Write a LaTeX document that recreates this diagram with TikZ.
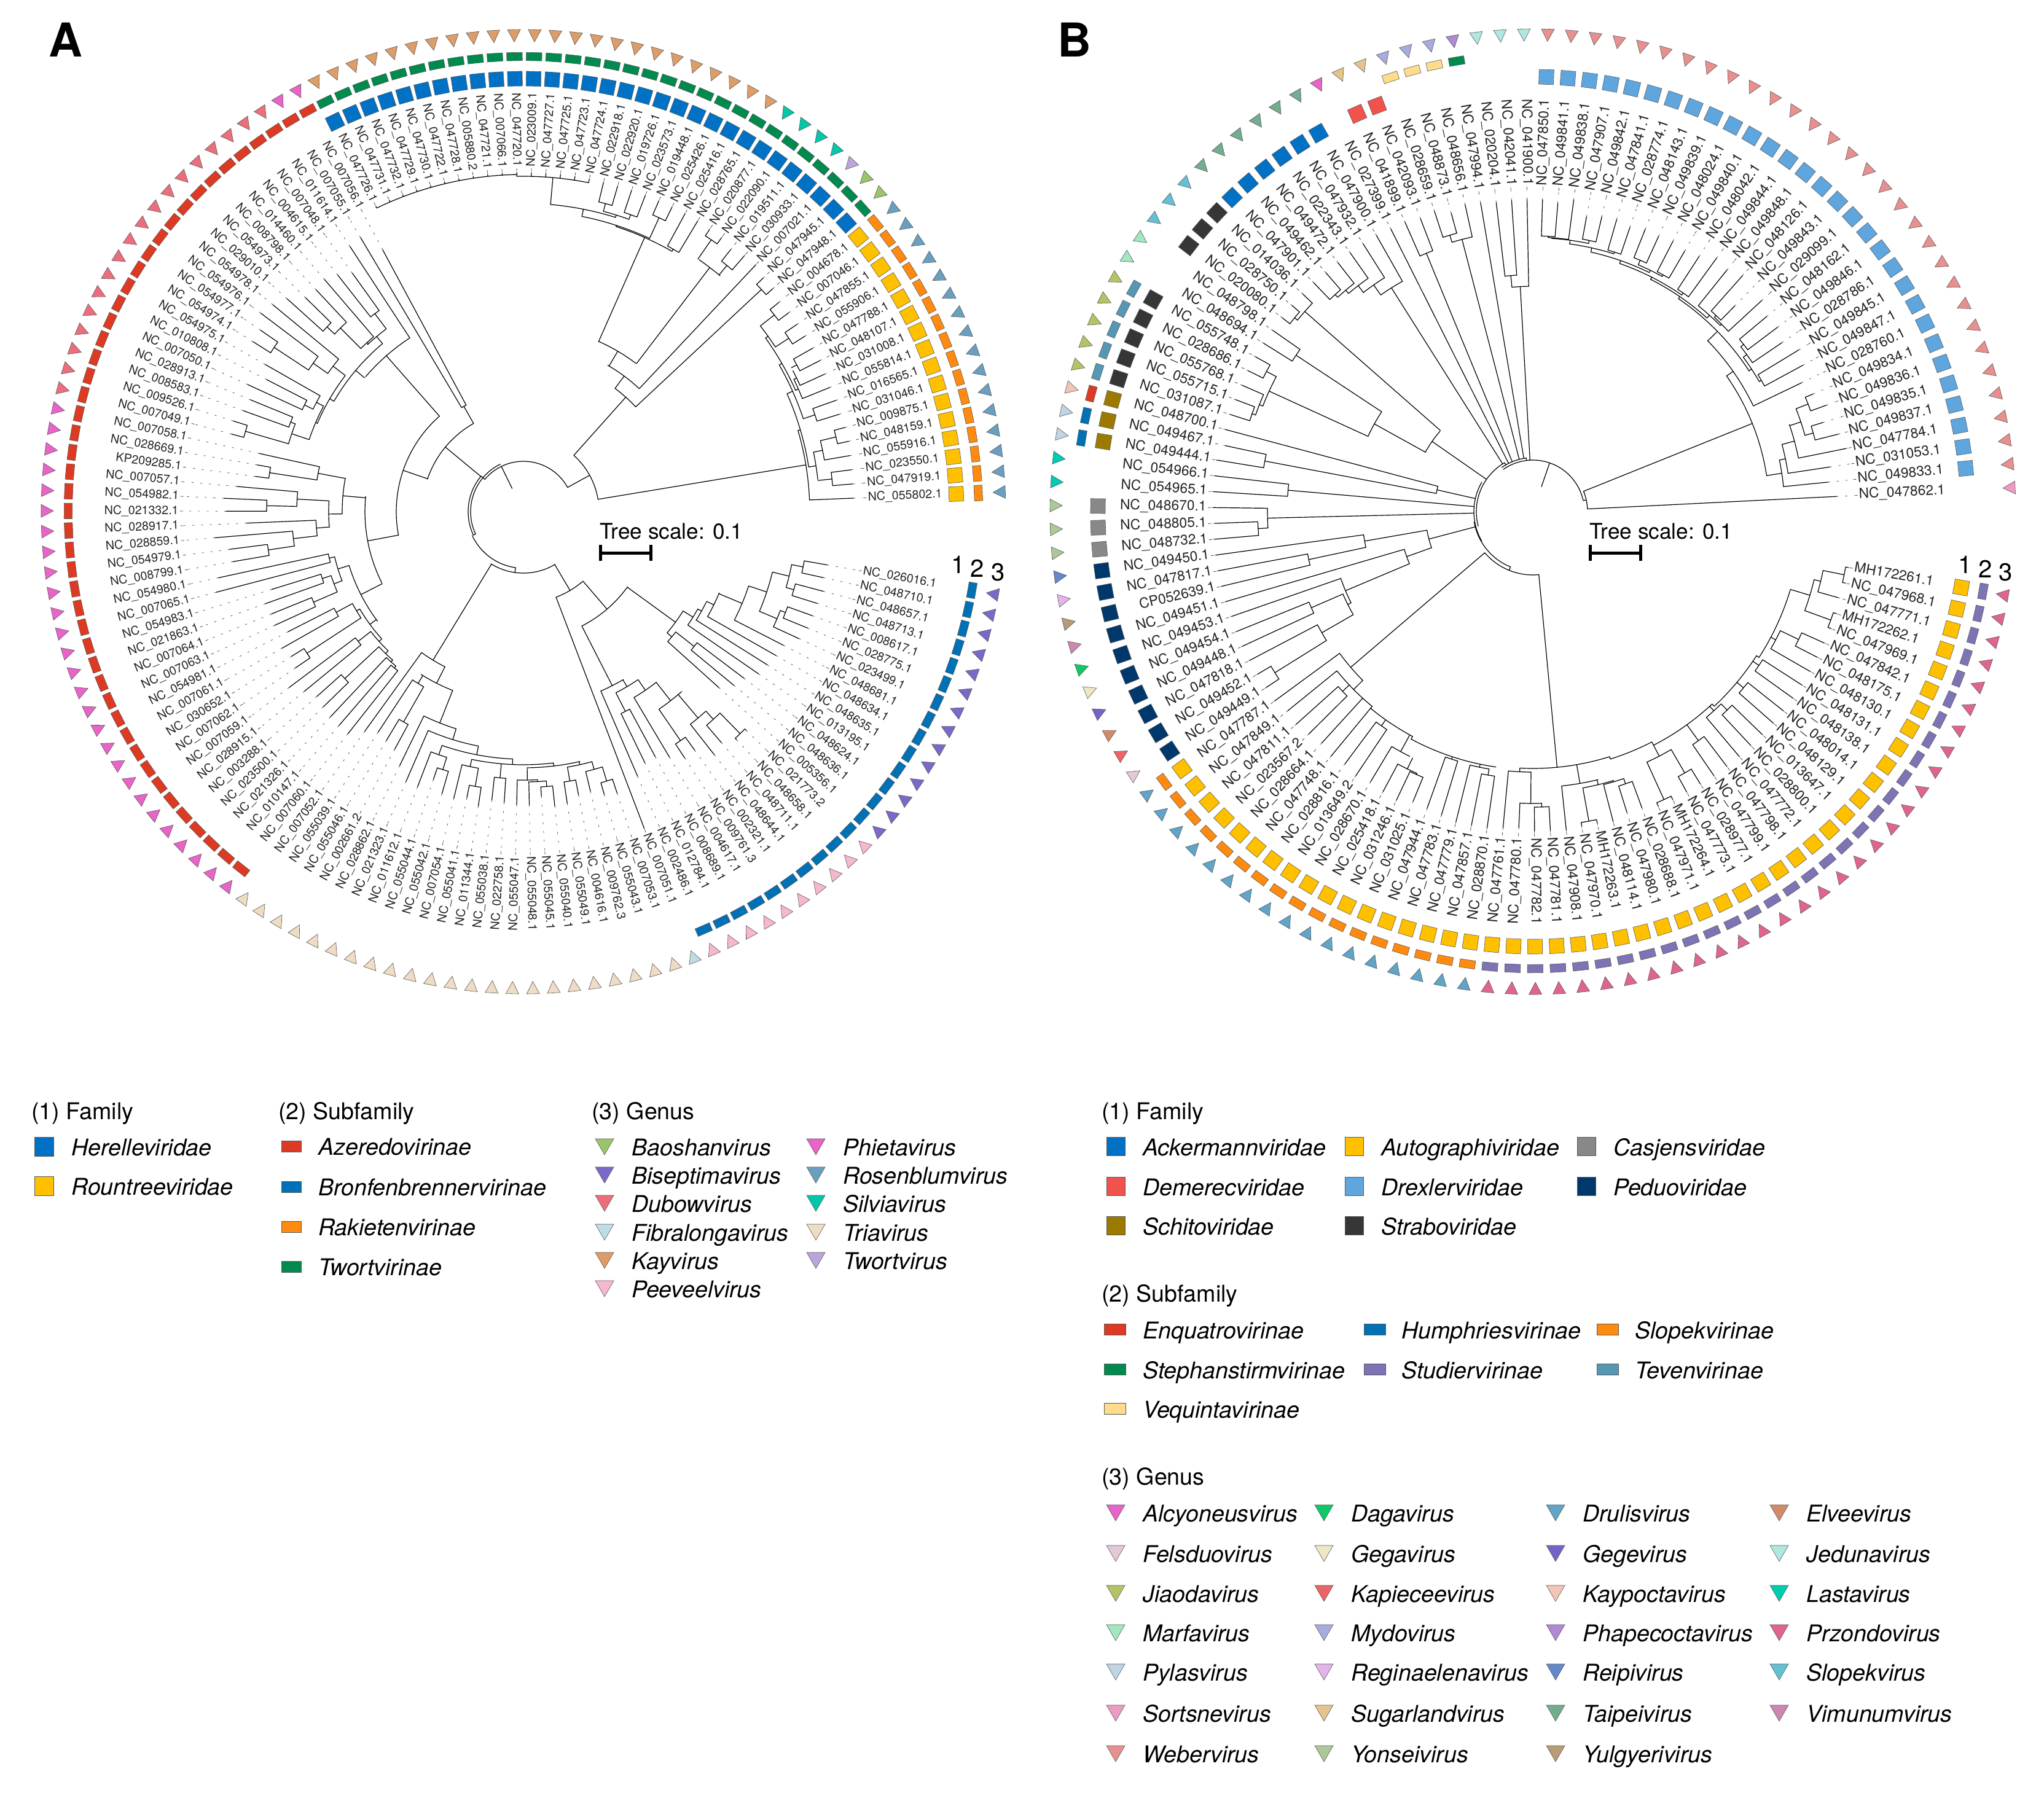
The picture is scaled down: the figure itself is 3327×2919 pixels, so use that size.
\documentclass[tikz,border=0pt]{standalone}
\usepackage{fontspec}
\setmainfont{TeX Gyre Heros}
\definecolor{cHere}{HTML}{0071C5}\definecolor{cRoun}{HTML}{FFC000}\definecolor{cAzer}{HTML}{DC3A22}
\definecolor{cBron}{HTML}{0071B5}\definecolor{cRaki}{HTML}{FF8A10}\definecolor{cTwor}{HTML}{008A4E}
\definecolor{cBaos}{HTML}{9CC46C}\definecolor{cBise}{HTML}{7B68C8}\definecolor{cDubo}{HTML}{EC6E7C}
\definecolor{cFibr}{HTML}{C0DCE4}\definecolor{cKayv}{HTML}{DD9D68}\definecolor{cPeev}{HTML}{F6B8D0}
\definecolor{cPhie}{HTML}{E864C8}\definecolor{cRose}{HTML}{6A9FC0}\definecolor{cSilv}{HTML}{00C8A8}
\definecolor{cTria}{HTML}{EEDCC4}\definecolor{cTwov}{HTML}{BCA4DC}
\definecolor{cCasj}{HTML}{888888}\definecolor{cDeme}{HTML}{F0524C}\definecolor{cDrex}{HTML}{60A6DE}
\definecolor{cPedu}{HTML}{00386C}\definecolor{cSchi}{HTML}{9C7A00}\definecolor{cStra}{HTML}{363636}
\definecolor{cStud}{HTML}{7C74B4}\definecolor{cTeve}{HTML}{5698B4}\definecolor{cVequ}{HTML}{FFDC8C}
\definecolor{cAlcy}{HTML}{E864C8}\definecolor{cDaga}{HTML}{10C868}\definecolor{cDrul}{HTML}{60A4C8}
\definecolor{cElve}{HTML}{D08C68}\definecolor{cFels}{HTML}{E4C8D8}\definecolor{cGega}{HTML}{ECE8C4}
\definecolor{cGege}{HTML}{7464C8}\definecolor{cJedu}{HTML}{B0E8E0}\definecolor{cJiao}{HTML}{B4C464}
\definecolor{cKapi}{HTML}{EC6468}\definecolor{cKayp}{HTML}{F4C4B8}\definecolor{cLast}{HTML}{00CCB0}
\definecolor{cMarf}{HTML}{A0E8C0}\definecolor{cMydo}{HTML}{A8ACDC}\definecolor{cPhap}{HTML}{B088D4}
\definecolor{cPrzo}{HTML}{E06490}\definecolor{cPyla}{HTML}{C0D4E4}\definecolor{cRegi}{HTML}{E4B4E8}
\definecolor{cReip}{HTML}{6488C8}\definecolor{cSlov}{HTML}{64C0D4}\definecolor{cSort}{HTML}{EC9CC0}
\definecolor{cSuga}{HTML}{E4C48C}\definecolor{cTaip}{HTML}{74AC90}\definecolor{cVimu}{HTML}{CC88B0}
\definecolor{cWebe}{HTML}{E89090}\definecolor{cYons}{HTML}{ACC898}\definecolor{cYulg}{HTML}{B89C78}
\tikzset{
 tree/.style={line width=0.6pt,black,line cap=round},
 lead/.style={line width=0.35pt,black!75,dash pattern=on 1.6pt off 5.5pt},
 tick/.style={line width=0.35pt,black!80},
 ringedge/.style={draw=black!65,line width=0.3pt},
 lab/.style={inner sep=0pt,text=black!85},
 head/.style={inner sep=0pt,anchor=west,text height=14pt,text depth=0pt,font=\fontsize{18.8pt}{20pt}\selectfont},
 leg/.style={inner sep=0pt,anchor=west,text height=14pt,text depth=0pt,font=\fontsize{18.8pt}{20pt}\selectfont\itshape},
 digit/.style={inner sep=0pt,font=\fontsize{20pt}{21pt}\selectfont},
 treescale/.style={inner sep=0pt,anchor=west,font=\fontsize{17.6pt}{19pt}\selectfont},
 panel/.style={inner sep=0pt,font=\fontsize{38pt}{40pt}\selectfont\bfseries},
 sbar/.style={line width=2.5pt,black}
}
\def\K{NC\_}
% tree primitives: indices are tip numbers, radii are reference pixels
\newcommand\nD[4]{\pgfmathsetmacro\tA{\aO+\dA*(#1-1)}\pgfmathsetmacro\tB{\aO+\dA*(#2-1)}\pgfmathsetmacro\tM{(\tA+\tB)/2}%
 \draw[tree] (\tA:#3) arc[start angle=\tA,end angle=\tB,radius={#3*0.5pt}];\draw[tree] (\tM:#4)--(\tM:#3);}
\newcommand\tP[3]{\pgfmathsetmacro\tA{\aO+\dA*(#1-1)}\draw[tree] (\tA:#2)--(\tA:#3);\draw[lead] (\tA:#3)--(\tA:\LR);}
\newcommand\pR[6]{\nD{#1}{#2}{#3}{#4}\tP{#1}{#3}{#5}\tP{#2}{#3}{#6}}
\newcommand\nT[5]{\nD{#1}{#2}{#3}{#4}\tP{#1}{#3}{#5}}
\newcommand\aR[3]{\pgfmathsetmacro\tA{\aO+\dA*(#2-1)}\pgfmathsetmacro\tB{\aO+\dA*(#3-1)}\draw[tree] (\tA:#1) arc[start angle=\tA,end angle=\tB,radius={#1*0.5pt}];}
\newcommand\sT[3]{\pgfmathsetmacro\tA{\aO+\dA*(#1-1)}\draw[tree] (\tA:#2)--(\tA:#3);}
\newcommand\aD[3]{\draw[tree] (#2:#1) arc[start angle=#2,end angle=#3,radius={#1*0.5pt}];}
\newcommand\sD[3]{\draw[tree] (#1:#2)--(#1:#3);}
% rings
\newcommand\oneSq[5]{\pgfmathsetmacro\tA{\aO+\dA*(#1-1)}\path[ringedge,fill=#5,shift={(\tA:#2)},rotate=\tA] (-#3,-#4) rectangle (#3,#4);}
\newcommand\rA[3]{\foreach \q in {#1,...,#2}{\oneSq{\q}{\rOne}{12}{12}{#3}}}
\newcommand\rB[3]{\foreach \q in {#1,...,#2}{\oneSq{\q}{\rTwo}{6.7}{12.7}{#3}}}
\newcommand\rC[3]{\foreach \q in {#1,...,#2}{\pgfmathsetmacro\tA{\aO+\dA*(\q-1)}\path[ringedge,fill=#3,shift={(\tA:\rThree)},rotate=\tA] (-10,0)--(10,-10.5)--(10,10.5)--cycle;}}
% labels, each with the short tick that precedes it
\newcommand\labs[3]{\foreach \nm [count=\c] in {#3}{\pgfmathsetmacro\tA{\aO+\dA*(\c-1)}\pgfmathsetmacro\tR{\tA+180}%
 \pgfmathsetmacro\tI{\LT-7}\pgfmathsetmacro\tO{\LT-2}\draw[tick] (\tA:\tI)--(\tA:\tO);%
 \ifdim\tA pt>90pt\ifdim\tA pt<270pt
  \node[lab,anchor=mid east,rotate=\tR,font=\fontsize{#2}{#2}\selectfont] (#1\c) at (\tA:\LT) {\nm};
 \else\node[lab,anchor=mid west,rotate=\tA,font=\fontsize{#2}{#2}\selectfont] (#1\c) at (\tA:\LT) {\nm};\fi
 \else\node[lab,anchor=mid west,rotate=\tA,font=\fontsize{#2}{#2}\selectfont] (#1\c) at (\tA:\LT) {\nm};\fi}}
% legend
\newcommand\lgS[5]{\path[ringedge,fill=#5] (#1-#3,-#2-#4) rectangle (#1+#3,-#2+#4);}
\newcommand\lgT[3]{\path[ringedge,fill=#3] (#1-15,-#2+13)--(#1+15,-#2+13)--(#1,-#2-13)--cycle;}
\begin{document}
\begin{tikzpicture}[x=0.5pt,y=0.5pt]
\useasboundingbox (0,0) rectangle (3327,-2919);
\fill[white] (0,0) rectangle (3327,-2919);
\node[panel] (pA) at (107,-65) {A};
\node[panel] (pB) at (1749,-65) {B};
%%%%%%%%%%%%%%%%%%%% PANEL A
\begin{scope}[shift={(852,-833)}]
\def\aO{2.35}\def\dA{2.466}\def\LR{553}\def\LT{561}\def\rOne{705}\def\rTwo{741}\def\rThree{775}
\rA{1}{16}{cRoun}\rA{17}{47}{cHere}
\rB{1}{16}{cRaki}\rB{17}{47}{cTwor}\rB{48}{94}{cAzer}\rB{119}{142}{cBron}
\rC{1}{16}{cRose}\rC{17}{18}{cBaos}\rC{19}{19}{cTwov}\rC{20}{23}{cSilv}\rC{24}{47}{cKayv}\rC{48}{49}{cPhie}
\rC{50}{67}{cDubo}\rC{68}{94}{cPhie}\rC{95}{117}{cTria}\rC{118}{118}{cFibr}\rC{119}{128}{cPeev}\rC{129}{142}{cBise}
\labs{A}{9.8pt}{\K055802.1,\K047919.1,\K023550.1,\K055916.1,\K048159.1,\K009875.1,\K031046.1,\K016565.1,\K055814.1,\K031008.1,\K048107.1,\K047788.1,\K055906.1,\K047855.1,\K007046.1,\K004678.1,\K047948.1,\K047945.1,\K007021.1,\K030933.1,\K019511.1,\K022090.1,\K020877.1,\K028765.1,\K025416.1,\K025426.1,\K019448.1,\K023573.1,\K019726.1,\K022920.1,\K022918.1,\K047724.1,\K047723.1,\K047725.1,\K047727.1,\K023009.1,\K047720.1,\K007066.1,\K047721.1,\K005880.2,\K047728.1,\K047722.1,\K047730.1,\K047729.1,\K047732.1,\K047731.1,\K047726.1,\K007056.1,\K007055.1,\K011614.1,\K007048.1,\K004615.1,\K014460.1,\K008798.1,\K054973.1,\K029010.1,\K054978.1,\K054976.1,\K054977.1,\K054974.1,\K054975.1,\K010808.1,\K007050.1,\K028913.1,\K008583.1,\K009526.1,\K007049.1,\K007058.1,\K028669.1,KP209285.1,\K007057.1,\K054982.1,\K021332.1,\K028917.1,\K028859.1,\K054979.1,\K008799.1,\K054980.1,\K007065.1,\K054983.1,\K021863.1,\K007064.1,\K007063.1,\K054981.1,\K007061.1,\K030652.1,\K007062.1,\K007059.1,\K028915.1,\K003288.1,\K023500.1,\K021326.1,\K010147.1,\K007060.1,\K007052.1,\K055039.1,\K055046.1,\K002661.2,\K028862.1,\K021323.1,\K011612.1,\K055044.1,\K055042.1,\K007054.1,\K055041.1,\K011344.1,\K055038.1,\K022758.1,\K055047.1,\K055048.1,\K055045.1,\K055040.1,\K055049.1,\K004616.1,\K009762.3,\K055043.1,\K007053.1,\K007051.1,\K002486.1,\K012784.1,\K008689.1,\K004617.1,\K009761.3,\K002321.1,\K048644.1,\K048711.1,\K048658.1,\K021773.2,\K005356.1,\K048636.1,\K048624.1,\K013195.1,\K048635.1,\K048634.1,\K048681.1,\K023499.1,\K028775.1,\K008617.1,\K048713.1,\K048657.1,\K048710.1,\K026016.1}
% root
\aD{82}{29}{140}\aD{86}{116}{205}\aD{90}{140}{205}\aD{92}{205}{262}\aD{100}{238}{301}
\sD{116}{42}{82}\sD{205}{86}{90}\sD{262}{92}{100}\sD{140}{82}{90}
% upper left
\nD{48.5}{65.46}{165}{90}\pR{48}{49}{197}{165}{484}{519}
\nD{53.3}{77.4}{207}{165}
\nT{50}{56.6}{338}{207}{516}
\nD{52.8}{60.75}{357}{338}\nD{51.5}{54}{372}{357}\pR{51}{52}{403}{372}{478}{490}
\nT{53}{54.75}{375}{372}{497.6}\nT{54}{55.5}{422}{375}{494}\pR{55}{56}{439}{422}{497}{518}
\nD{57.9}{63.65}{365}{357}\nT{57}{58.75}{390}{365}{529}\nT{58}{59.5}{419}{390}{536}\pR{59}{60}{486}{419}{520}{520}
\nD{61.75}{65.5}{368}{365}\nT{61}{62.5}{381}{368}{484}\pR{62}{63}{396.5}{381}{470}{494}
\nD{64.5}{66.5}{398}{368}\pR{64}{65}{406}{398}{480}{485}\pR{66}{67}{471}{398}{495}{492}
\nD{70.8}{83.9}{258}{207}
\nD{68.7}{73.3}{295}{258}\nT{68}{69.5}{340}{295}{440}\pR{69}{70}{418}{340}{440}{440}
\nD{71.75}{74.9}{317}{295}\nT{71}{72.5}{369}{317}{468}\pR{72}{73}{418}{369}{488}{484}
\nT{74}{75.75}{338}{317}{451}\nT{75}{76.5}{377}{338}{504}\pR{76}{77}{420}{377}{482}{480}
\nD{80}{88}{297}{258}\nD{78.5}{81.5}{316}{297}\pR{78}{79}{325}{316}{508}{517}
\nD{80.5}{82.5}{330}{316}\pR{80}{81}{345}{330}{429}{446}\pR{82}{83}{372}{330}{443}{445}
\nD{85.5}{90}{310}{297}\nD{84.5}{86.5}{316}{310}\pR{84}{85}{346}{316}{430}{451}\pR{86}{87}{421}{316}{445}{450}
\nD{88.5}{91.6}{316}{310}\pR{88}{89}{342}{316}{477}{461}
\nD{90.5}{92.75}{322}{316}\pR{90}{91}{398}{322}{451}{455}\nT{92}{93.5}{326}{322}{459}\pR{93}{94}{330}{326}{460}{461}
% lower left
\nT{95}{98.65}{283}{100}{441}
\nD{96.5}{100.8}{313}{283}\nT{96}{97.5}{328}{313}{430}\pR{97}{98}{394}{328}{434}{440}
\nT{99}{102.55}{370}{313}{460}
\nT{100}{105.1}{388.5}{370}{479}
\nD{101.75}{108.5}{403}{388.5}\nT{101}{102.5}{419}{403}{480}\pR{102}{103}{440}{419}{460}{478}
\nD{104.75}{112.3}{412}{403}\nT{104}{105.5}{424}{412}{480}\pR{105}{106}{454}{424}{475}{485}
\pR{107}{108}{435}{412}{472}{474}
\nD{109.9}{114.7}{417}{412}\nT{109}{110.75}{437}{417}{477}\nT{110}{111.5}{440}{437}{477}\pR{111}{112}{449}{440}{464}{482}
\nD{113.5}{115.75}{422}{417}\pR{113}{114}{445}{422}{480}{470}\nT{115}{116.5}{435}{422}{468}\pR{116}{117}{459}{435}{479}{483}
% lower right
\nT{118}{125.9}{149}{100}{552}
\nD{120.5}{131.5}{209}{149}
\nT{119}{122}{318}{209}{469}
\nD{120.5}{123.4}{331}{318}\pR{120}{121}{365}{331}{454}{453}
\nT{122}{124.9}{352}{331}{465}
\nD{123.5}{126.3}{390}{352}\pR{123}{124}{452}{390}{479}{478}
\nT{125}{126.7}{440}{390}{503}\nT{126}{127.5}{458}{440}{495}\pR{127}{128}{505}{458}{508}{508}
\nD{129.75}{133.1}{306}{209}\nT{129}{130.5}{316}{306}{428}\pR{130}{131}{354}{316}{444}{450}
\nT{132}{134.2}{325}{306}{465}\nT{133}{135.4}{332}{325}{469}\nT{134}{136.9}{345}{332}{473}
\nT{135}{138.6}{386}{345}{476}
\nD{136.75}{140.5}{417}{386}\nT{136}{137.5}{448}{417}{494}\pR{137}{138}{457}{448}{500}{500}
\nD{139.5}{141.5}{445}{417}\pR{139}{140}{458}{445}{501}{505}\pR{141}{142}{464}{445}{500}{502}
% upper right
\nD{3.87}{19.6}{123}{82}
\nD{17.5}{21.7}{250}{123}\pR{17}{18}{530}{250}{545}{545}
\nT{19}{24.4}{275}{250}{552}
\nD{21.5}{26.9}{303}{275}\nD{20.4}{22.4}{500}{303}\pR{20}{21}{520}{500}{550}{544}\pR{22}{23}{538}{500}{550}{550}
\nD{24.5}{29.25}{488}{303}\pR{24}{25}{492}{488}{552}{552}
\nD{26.5}{32}{490}{488}\pR{26}{27}{527}{490}{552}{552}
\nD{29.5}{34.5}{502}{490}\nD{28.5}{30.5}{506}{502}\pR{28}{29}{514}{506}{552}{552}\pR{30}{31}{519}{506}{552}{552}
\nD{32}{37}{546}{502}\aR{549}{37}{47}\sT{37}{546}{549}
\foreach \q in {32,...,36}{\tP{\q}{546}{552}}
\foreach \q in {37,...,47}{\tP{\q}{549}{552}}
% right cluster
\nT{1}{6.73}{466}{123}{538}
\nD{3.66}{9.8}{470}{466}\nD{2.57}{4.75}{482}{470}\pR{2}{3}{505}{482}{538}{538}
\nT{4}{5.5}{497}{482}{539}\pR{5}{6}{523}{497}{542}{541}
\nD{7.5}{12.15}{480}{470}\pR{7}{8}{500}{480}{538}{540}
\nD{9.8}{14.5}{485}{480}\nT{9}{10.6}{490}{485}{538}\nT{10}{11.25}{495}{490}{539}\pR{11}{12}{505}{495}{542}{541}
\nD{13.5}{15.5}{490}{485}\pR{13}{14}{516}{490}{540}{540}\pR{15}{16}{519}{490}{540}{538}
\end{scope}
\node[treescale] (tsA) at (976,-865) {Tree scale: 0.1};
\coordinate (ba1) at (977,-900);\coordinate (ba2) at (1059,-900);
\draw[sbar] (ba1)--(ba2);\draw[sbar] ([yshift=-6.5pt]ba1)--([yshift=6.5pt]ba1);\draw[sbar] ([yshift=-6.5pt]ba2)--([yshift=6.5pt]ba2);
\node[digit] (a1) at (1560,-919) {1};\node[digit] (a2) at (1591,-925) {2};\node[digit] (a3) at (1625,-932) {3};
%%%%%%%%%%%%%%%%%%%% PANEL B
\begin{scope}[shift={(2495,-833)}]
\def\aO{2.87}\def\dA{2.845}\def\LR{523}\def\LT{531}\def\rOne{708}\def\rTwo{744}\def\rThree{776}
\rA{2}{31}{cDrex}\rA{39}{40}{cDeme}\rA{42}{47}{cHere}\rA{48}{50}{cStra}\rA{53}{57}{cStra}\rA{58}{60}{cSchi}
\rA{63}{65}{cCasj}\rA{66}{75}{cPedu}\rA{76}{123}{cRoun}
\rB{35}{35}{cTwor}\rB{36}{38}{cVequ}\rB{53}{57}{cTeve}\rB{58}{58}{cAzer}\rB{59}{60}{cBron}\rB{76}{92}{cRaki}\rB{93}{123}{cStud}
\rC{1}{1}{cSort}\rC{2}{31}{cWebe}\rC{32}{34}{cJedu}\rC{35}{35}{cPhap}\rC{36}{38}{cMydo}\rC{39}{40}{cSuga}\rC{41}{41}{cAlcy}
\rC{42}{47}{cTaip}\rC{48}{50}{cSlov}\rC{51}{52}{cMarf}\rC{53}{57}{cJiao}\rC{58}{58}{cKayp}\rC{59}{60}{cPyla}\rC{61}{62}{cLast}
\rC{63}{65}{cYons}\rC{66}{66}{cReip}\rC{67}{67}{cRegi}\rC{68}{68}{cYulg}\rC{69}{69}{cVimu}\rC{70}{70}{cDaga}\rC{71}{71}{cGega}
\rC{72}{72}{cGege}\rC{73}{73}{cElve}\rC{74}{74}{cKapi}\rC{75}{75}{cFels}\rC{76}{92}{cDrul}\rC{93}{123}{cPrzo}
\labs{B}{11.4pt}{\K047862.1,\K049833.1,\K031053.1,\K047784.1,\K049837.1,\K049835.1,\K049836.1,\K049834.1,\K028760.1,\K049847.1,\K049845.1,\K028786.1,\K049846.1,\K048162.1,\K029099.1,\K049843.1,\K048126.1,\K049848.1,\K049844.1,\K048042.1,\K049840.1,\K048024.1,\K049839.1,\K048143.1,\K028774.1,\K047841.1,\K049842.1,\K047907.1,\K049838.1,\K049841.1,\K047850.1,\K041900.1,\K042041.1,\K020204.1,\K047994.1,\K048656.1,\K048873.1,\K028659.1,\K042093.1,\K041899.1,\K027399.1,\K047900.1,\K047932.1,\K022343.1,\K049472.1,\K049462.1,\K047901.1,\K014036.1,\K028750.1,\K020080.1,\K048798.1,\K048694.1,\K055748.1,\K028686.1,\K055768.1,\K055715.1,\K031087.1,\K048700.1,\K049467.1,\K049444.1,\K054966.1,\K054965.1,\K048670.1,\K048805.1,\K048732.1,\K049450.1,\K047817.1,CP052639.1,\K049451.1,\K049453.1,\K049454.1,\K049448.1,\K047818.1,\K049452.1,\K049449.1,\K047787.1,\K047849.1,\K047811.1,\K023567.2,\K028664.1,\K047748.1,\K028816.1,\K013649.2,\K028670.1,\K025418.1,\K031246.1,\K031025.1,\K047944.1,\K047783.1,\K047779.1,\K047857.1,\K028870.1,\K047761.1,\K047780.1,\K047782.1,\K047781.1,\K047908.1,\K047970.1,MH172263.1,\K048114.1,\K047980.1,\K028688.1,\K047971.1,MH172264.1,\K047773.1,\K028977.1,\K047799.1,\K047798.1,\K047772.1,\K028800.1,\K013647.1,\K048129.1,\K048014.1,\K048138.1,\K048131.1,\K048130.1,\K048175.1,\K047842.1,\K047969.1,MH172262.1,\K047771.1,\K047968.1,MH172261.1}
% root
\aD{84}{13}{125}\aD{88}{97}{125}\aD{92}{120}{195}\aD{96}{150}{210}\aD{97}{190}{248}
\sD{71}{43}{84}\sD{97}{84}{88}\sD{120}{88}{92}
% right top
\nT{1}{7.7}{89}{84}{495}
\nD{3.08}{12.3}{385}{89}
\nT{2}{4.15}{410}{385}{483}\nT{3}{5.3}{420}{410}{489}\nT{4}{6.6}{441}{420}{520}
\nD{5.5}{7.5}{460}{441}\pR{5}{6}{474}{460}{513}{494}\pR{7}{8}{481}{460}{508}{495}
\nT{9}{15.6}{398}{385}{485}
\nD{11.6}{19.55}{420}{398}
\nD{10.5}{12.75}{425}{420}\pR{10}{11}{429}{425}{500}{507}\nT{12}{13.5}{432}{425}{490}\pR{13}{14}{438}{432}{499}{496}
\nD{16.9}{22.2}{424}{420}
\nD{15.75}{18}{430}{424}\tP{18}{430}{505}\nT{15}{16.5}{433}{430}{507}\pR{16}{17}{437}{433}{469}{514}
\nD{19.5}{24.85}{428}{424}\pR{19}{20}{432}{428}{510}{496}
\nD{22.5}{27.2}{433}{428}\nD{21.5}{23.5}{437}{433}\pR{21}{22}{440}{437}{491}{496}\pR{23}{24}{445}{437}{493}{495}
\nD{25.5}{28.9}{440}{433}\pR{25}{26}{443}{440}{489}{495}
\nD{27.5}{30.25}{446}{440}\pR{27}{28}{451}{446}{493}{488}\nT{29}{30.5}{447}{446}{512}\pR{30}{31}{449}{447}{504}{508}
% upper
\nT{32}{33.5}{367}{84}{508}\pR{33}{34}{386}{367}{508}{507}
\tP{35}{88}{510}
\nT{36}{37.5}{458}{88}{512}\pR{37}{38}{470}{458}{504}{515}
\pR{39}{40}{455}{88}{511}{515}
\tP{41}{88}{515}
\nT{42}{43.95}{431}{92}{517}\nT{43}{44.9}{451}{431}{516}\nT{44}{45.75}{465}{451}{516}\nT{45}{46.5}{472}{465}{515}\pR{46}{47}{478}{472}{515}{516}
\nD{48.9}{53.1}{200}{92}
\nT{48}{49.5}{494}{200}{516}\pR{49}{50}{500}{494}{516}{516}
\nD{51.5}{54.65}{295}{200}\pR{51}{52}{462}{295}{516}{517}
\nD{53.5}{55.75}{472}{295}\pR{53}{54}{490}{472}{517}{517}
\nT{55}{56.5}{478}{472}{516}\pR{56}{57}{484}{478}{517}{517}
% left
\nT{58}{59.5}{160}{96}{518}\pR{59}{60}{444}{160}{512}{521}
\pR{61}{62}{400}{96}{521}{521}
\nT{63}{64.5}{432}{96}{520}\pR{64}{65}{448}{432}{518}{520}
\nD{66.75}{70.15}{175}{96}
\nT{66}{67.5}{278}{175}{521}\pR{67}{68}{373}{278}{521}{521}
\nT{69}{71.3}{218}{175}{521}\nT{70}{72.6}{331}{218}{519}
\nD{71.5}{73.75}{337}{331}\pR{71}{72}{393}{337}{520}{521}
\nT{73}{74.5}{396}{337}{521}\pR{74}{75}{495}{396}{520}{520}
% lower left clade
\nD{77.5}{96.8}{103}{97}
\nT{76}{79}{390}{103}{521}
\nT{77}{81}{411}{390}{514}\pR{78}{79}{426}{411}{518}{514}\tP{80}{411}{510}
\sT{81}{411}{415}\aR{415}{81}{85}\sT{85}{415}{420}\aR{420}{85}{92}
\tP{81}{415}{516}\pR{82}{83}{427}{415}{512}{518}
\nT{84}{85.5}{446}{415}{513}\nT{85}{86.5}{466}{446}{517}\pR{86}{87}{468}{466}{519}{510}
\pR{88}{89}{424}{420}{513}{516}
\nT{90}{91.5}{425}{420}{520}\pR{91}{92}{435}{425}{520}{520}
% lower right clade
\sT{96.8}{103}{418}\aR{418}{93.9}{101}
\nT{93}{94.75}{424}{418}{517}\nT{94}{95.5}{475}{424}{515}\pR{95}{96}{481}{475}{520}{520}
\nT{97}{99.7}{449}{418}{521}
\nD{98.5}{100.75}{457}{449}\pR{98}{99}{512}{457}{518}{518}
\nT{100}{101.5}{459}{457}{521}\pR{101}{102}{468}{459}{513}{514}
\sT{101}{418}{422}\aR{422}{101}{104.5}\sT{104.5}{422}{428}\aR{428}{104.5}{110}\sT{110}{428}{433}\aR{433}{110}{115}\sT{115}{433}{438}\aR{438}{115}{120.6}
\nD{103.5}{105.5}{448}{428}\pR{103}{104}{515}{448}{521}{521}\pR{105}{106}{492}{448}{520}{520}
\pR{107}{108}{460}{428}{521}{521}
\nT{109}{110.5}{438}{428}{521}\pR{110}{111}{452}{438}{520}{520}
\pR{112}{113}{447}{433}{521}{521}
\pR{114}{115}{445}{433}{521}{521}
\nT{116}{117.5}{447}{438}{521}\pR{117}{118}{480}{447}{520}{520}
\nD{119.5}{121.75}{471}{438}\pR{119}{120}{516}{471}{521}{521}
\nT{121}{122.5}{482}{471}{516}\pR{122}{123}{517}{482}{521}{521}
\end{scope}
\node[treescale] (tsB) at (2587,-865) {Tree scale: 0.1};
\coordinate (bb1) at (2588,-900);\coordinate (bb2) at (2670,-900);
\draw[sbar] (bb1)--(bb2);\draw[sbar] ([yshift=-6.5pt]bb1)--([yshift=6.5pt]bb1);\draw[sbar] ([yshift=-6.5pt]bb2)--([yshift=6.5pt]bb2);
\node[digit] (b1) at (3199,-919) {1};\node[digit] (b2) at (3232,-926) {2};\node[digit] (b3) at (3265,-932) {3};
%%%%%%%%%%%%%%%%%%%% LEGEND A
\node[head] (lA1) at (51,-1808) {(1) Family};
\lgS{71.5}{1867}{15.5}{15.5}{cHere}\node[leg] (l1) at (116,-1867) {Herelleviridae};
\lgS{71.5}{1931}{15.5}{15.5}{cRoun}\node[leg] (l2) at (116,-1931) {Rountreeviridae};
\node[head] (lA2) at (453,-1808) {(2) Subfamily};
\lgS{474}{1866}{16}{9}{cAzer}\node[leg] (l3) at (518,-1866) {Azeredovirinae};
\lgS{474}{1932}{16}{9}{cBron}\node[leg] (l4) at (518,-1932) {Bronfenbrennervirinae};
\lgS{474}{1997}{16}{9}{cRaki}\node[leg] (l5) at (518,-1997) {Rakietenvirinae};
\lgS{474}{2062}{16}{9}{cTwor}\node[leg] (l6) at (518,-2062) {Twortvirinae};
\node[head] (lA3) at (963,-1808) {(3) Genus};
\lgT{984}{1867}{cBaos}\node[leg] (g1) at (1028,-1867) {Baoshanvirus};
\lgT{984}{1913}{cBise}\node[leg] (g2) at (1028,-1913) {Biseptimavirus};
\lgT{984}{1959}{cDubo}\node[leg] (g3) at (1028,-1959) {Dubowvirus};
\lgT{984}{2006}{cFibr}\node[leg] (g4) at (1028,-2006) {Fibralongavirus};
\lgT{984}{2052}{cKayv}\node[leg] (g5) at (1028,-2052) {Kayvirus};
\lgT{984}{2098}{cPeev}\node[leg] (g6) at (1028,-2098) {Peeveelvirus};
\lgT{1328}{1867}{cPhie}\node[leg] (g7) at (1372,-1867) {Phietavirus};
\lgT{1328}{1913}{cRose}\node[leg] (g8) at (1372,-1913) {Rosenblumvirus};
\lgT{1328}{1959}{cSilv}\node[leg] (g9) at (1372,-1959) {Silviavirus};
\lgT{1328}{2006}{cTria}\node[leg] (g10) at (1372,-2006) {Triavirus};
\lgT{1328}{2052}{cTwov}\node[leg] (g11) at (1372,-2052) {Twortvirus};
%%%%%%%%%%%%%%%%%%%% LEGEND B
\node[head] (lB1) at (1793,-1808) {(1) Family};
\lgS{1816}{1866}{15}{15}{cHere}\node[leg] (m1) at (1860,-1867) {Ackermannviridae};
\lgS{1816}{1931}{15}{15}{cDeme}\node[leg] (m2) at (1860,-1932) {Demerecviridae};
\lgS{1816}{1995}{15}{15}{cSchi}\node[leg] (m3) at (1860,-1996) {Schitoviridae};
\lgS{2204}{1866}{15}{15}{cRoun}\node[leg] (m4) at (2248,-1867) {Autographiviridae};
\lgS{2204}{1931}{15}{15}{cDrex}\node[leg] (m5) at (2248,-1932) {Drexlerviridae};
\lgS{2204}{1995}{15}{15}{cStra}\node[leg] (m6) at (2248,-1996) {Straboviridae};
\lgS{2582}{1866}{15}{15}{cCasj}\node[leg] (m7) at (2626,-1867) {Casjensviridae};
\lgS{2582}{1931}{15}{15}{cPedu}\node[leg] (m8) at (2626,-1932) {Peduoviridae};
\node[head] (lB2) at (1793,-2105) {(2) Subfamily};
\lgS{1815}{2164}{17.5}{9}{cAzer}\node[leg] (n1) at (1860,-2165) {Enquatrovirinae};
\lgS{1815}{2229}{17.5}{9}{cTwor}\node[leg] (n2) at (1860,-2230) {Stephanstirmvirinae};
\lgS{1815}{2293}{17.5}{9}{cVequ}\node[leg] (n3) at (1860,-2294) {Vequintavirinae};
\lgS{2238}{2164}{17.5}{9}{cBron}\node[leg] (n4) at (2281,-2165) {Humphriesvirinae};
\lgS{2238}{2229}{17.5}{9}{cStud}\node[leg] (n5) at (2281,-2230) {Studiervirinae};
\lgS{2617}{2164}{17.5}{9}{cRaki}\node[leg] (n6) at (2661,-2165) {Slopekvirinae};
\lgS{2617}{2229}{17.5}{9}{cTeve}\node[leg] (n7) at (2661,-2230) {Tevenvirinae};
\node[head] (lB3) at (1793,-2403) {(3) Genus};
\lgT{1816}{2463}{cAlcy}\node[leg] (p1) at (1860,-2463) {Alcyoneusvirus};
\lgT{1816}{2529}{cFels}\node[leg] (p2) at (1860,-2529) {Felsduovirus};
\lgT{1816}{2594}{cJiao}\node[leg] (p3) at (1860,-2594) {Jiaodavirus};
\lgT{1816}{2658}{cMarf}\node[leg] (p4) at (1860,-2658) {Marfavirus};
\lgT{1816}{2722}{cPyla}\node[leg] (p5) at (1860,-2722) {Pylasvirus};
\lgT{1816}{2789}{cSort}\node[leg] (p6) at (1860,-2789) {Sortsnevirus};
\lgT{1816}{2855}{cWebe}\node[leg] (p7) at (1860,-2855) {Webervirus};
\lgT{2155}{2463}{cDaga}\node[leg] (q1) at (2199,-2463) {Dagavirus};
\lgT{2155}{2529}{cGega}\node[leg] (q2) at (2199,-2529) {Gegavirus};
\lgT{2155}{2594}{cKapi}\node[leg] (q3) at (2199,-2594) {Kapieceevirus};
\lgT{2155}{2658}{cMydo}\node[leg] (q4) at (2199,-2658) {Mydovirus};
\lgT{2155}{2722}{cRegi}\node[leg] (q5) at (2199,-2722) {Reginaelenavirus};
\lgT{2155}{2789}{cSuga}\node[leg] (q6) at (2199,-2789) {Sugarlandvirus};
\lgT{2155}{2855}{cYons}\node[leg] (q7) at (2199,-2855) {Yonseivirus};
\lgT{2532}{2463}{cDrul}\node[leg] (s1) at (2576,-2463) {Drulisvirus};
\lgT{2532}{2529}{cGege}\node[leg] (s2) at (2576,-2529) {Gegevirus};
\lgT{2532}{2594}{cKayp}\node[leg] (s3) at (2576,-2594) {Kaypoctavirus};
\lgT{2532}{2658}{cPhap}\node[leg] (s4) at (2576,-2658) {Phapecoctavirus};
\lgT{2532}{2722}{cReip}\node[leg] (s5) at (2576,-2722) {Reipivirus};
\lgT{2532}{2789}{cTaip}\node[leg] (s6) at (2576,-2789) {Taipeivirus};
\lgT{2532}{2855}{cYulg}\node[leg] (s7) at (2576,-2855) {Yulgyerivirus};
\lgT{2896}{2463}{cElve}\node[leg] (u1) at (2940,-2463) {Elveevirus};
\lgT{2896}{2529}{cJedu}\node[leg] (u2) at (2940,-2529) {Jedunavirus};
\lgT{2896}{2594}{cLast}\node[leg] (u3) at (2940,-2594) {Lastavirus};
\lgT{2896}{2658}{cPrzo}\node[leg] (u4) at (2940,-2658) {Przondovirus};
\lgT{2896}{2722}{cSlov}\node[leg] (u5) at (2940,-2722) {Slopekvirus};
\lgT{2896}{2789}{cVimu}\node[leg] (u6) at (2940,-2789) {Vimunumvirus};
\end{tikzpicture}
\end{document}
